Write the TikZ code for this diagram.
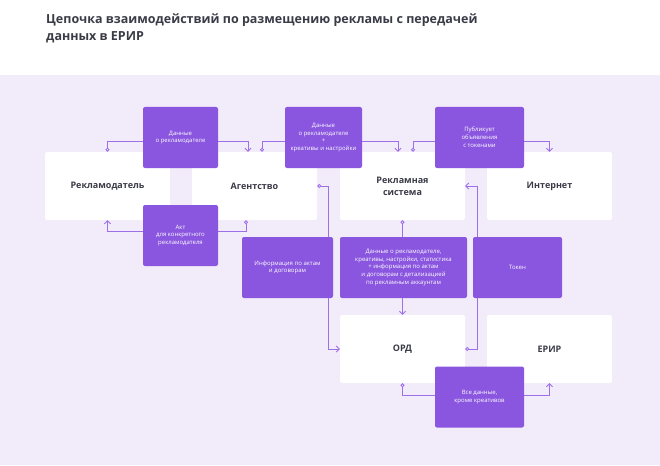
\documentclass[tikz,border=0pt]{standalone}
\usepackage{fontspec}
\setmainfont{Open Sans}
\usetikzlibrary{arrows.meta,positioning,calc}
\definecolor{erlilac}{HTML}{F2EBF9}
\definecolor{erpurple}{HTML}{8A55DF}
\definecolor{erline}{HTML}{9D6FE8}
\definecolor{ertext}{HTML}{3B3B48}

\tikzset{
  party/.style={fill=white,rounded corners=2pt,minimum width=125pt,minimum height=68pt,
    font=\fontsize{9}{12}\selectfont\bfseries,text=ertext,align=center},
  flow/.style={fill=erpurple,rounded corners=2pt,minimum height=61pt,
    font=\fontsize{6}{7.8}\selectfont,text=white,align=center,inner sep=1pt},
  link/.style={erline,line width=0.9pt,{Circle[open,length=4pt,fill=white]}-{Straight Barb[length=3pt,width=6pt]}}
}

\begin{document}
\begin{tikzpicture}[x=1pt,y=-1pt]
  \useasboundingbox (0,0) rectangle (660,465);

  % ---- Background and title ----------------------------------
  \fill[white] (0,0) rectangle (660,75);
  \fill[erlilac] (0,75) rectangle (660,465);
  \node[anchor=north west,font=\fontsize{12.5}{17}\selectfont\bfseries,text=ertext,align=left,inner sep=0pt]
    (title) at (46,14) {Цепочка взаимодействий по размещению рекламы с передачей\\данных в ЕРИР};

  % ---- Participants ------------------------------------------
  \node[party] (adv)  at (107.5,186) {Рекламодатель};
  \node[party] (ag)   at (254.5,186) {Агентство};
  \node[party] (rs)   at (402.5,186) {Рекламная\\система};
  \node[party] (inet) at (549.5,186) {Интернет};
  \node[party] (ord)  at (402.5,349) {ОРД};
  \node[party] (erir) at (549.5,349) {ЕРИР};

  % ---- Connectors --------------------------------------------
  \draw[link] (adv.north) -- ++(0,-10) -| ([xshift=-6.5pt]ag.north);
  \draw[link] ([xshift=-8.5pt]ag.south) -- ++(0,11) -| (adv.south);
  \draw[link] ([xshift=7.5pt]ag.north) -- ++(0,-10) -| ([xshift=-4.5pt]rs.north);
  \draw[link] ([xshift=10.5pt]rs.north) -- ++(0,-10) -| (inet.north);
  \draw[link] (ag.east) -- ++(11,0) |- (ord.west);
  \draw[link] (rs.south) -- (ord.north);
  \draw[link] (ord.east) -- ++(12,0) |- (rs.east);
  \draw[link] (ord.south) -- ++(0,12) -| (erir.south);

  % ---- Data flows --------------------------------------------
  \node[flow,minimum width=75pt] (d1)   at (180.5,137.5) {Данные\\о рекламодателе};
  \node[flow,minimum width=75pt] (akt)  at (180.5,235.5) {Акт\\для конкретного\\рекламодателя};
  \node[flow,minimum width=77pt] (d2)   at (323.5,137.5) {Данные\\о рекламодателе\\+\\креативы и настройки};
  \node[flow,minimum width=89pt] (pub)  at (479.5,137.5) {Публикует\\объявления\\с токенами};
  \node[flow,minimum width=91pt] (info) at (287.5,267.5) {Информация по актам\\и договорам};
  \node[flow,minimum width=127pt] (dall) at (403.5,267.5)
    {Данные о рекламодателе,\\креативы, настройки, статистика\\+ информация по актам\\и договорам с детализацией\\по рекламным аккаунтам};
  \node[flow,minimum width=89pt] (tok)  at (517.5,267.5) {Токен};
  \node[flow,minimum width=89pt] (vse)  at (479.5,397) {Все данные,\\кроме креативов};

\end{tikzpicture}
\end{document}
